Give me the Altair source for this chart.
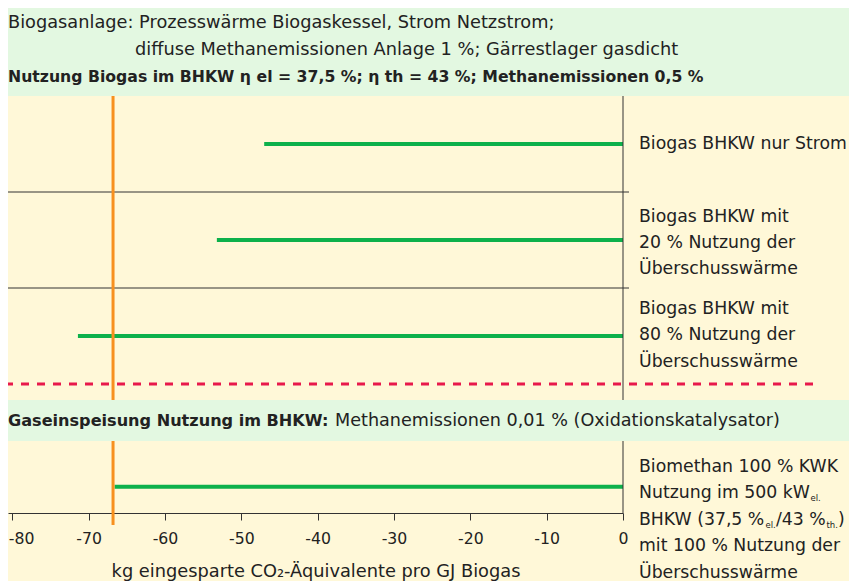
import altair as alt
import pandas as pd

# ---------------- data ----------------
row_labels = [
    "Biogas BHKW nur Strom",
    "Biogas BHKW mit\n20 % Nutzung der\nÜberschusswärme",
    "Biogas BHKW mit\n80 % Nutzung der\nÜberschusswärme",
]
row_values = [-47.0, -53.2, -71.4]
biomethan_value = -66.6
reference_value = -66.8  # orange line
tick_values = [-80, -70, -60, -50, -40, -30, -20, -10, 0]

header_line1 = "Biogasanlage: Prozesswärme Biogaskessel, Strom Netzstrom;"
header_line2 = "diffuse Methanemissionen Anlage 1 %; Gärrestlager gasdicht"
header_line3 = "Nutzung Biogas im BHKW η el = 37,5 %; η th = 43 %; Methanemissionen 0,5 %"
band_bold = "Gaseinspeisung Nutzung im BHKW:"
band_regular = "Methanemissionen 0,01 % (Oxidationskatalysator)"
axis_title = "kg eingesparte CO₂-Äquivalente pro GJ Biogas"

bm_line1 = "Biomethan 100 % KWK"
bm_line2 = "Nutzung im 500 kW"
bm_line3a = "BHKW (37,5 %"
bm_line3b = "/43 %"
bm_line3c = ")"
bm_line4 = "mit 100 % Nutzung der"
bm_line5 = "Überschusswärme"
sub_el = "el."
sub_th = "th."

# ---------------- layout / style ----------------
W, H = 615, 505
PAD_R, PAD_B = 226, 68
X_MIN, X_MAX = -80.56, 0
Y_TOP, Y_BOT = -1.4167, 3.84375
ROW_POS = [0, 1, 2]
ROW_DY = [0, -23.5, -27]
BM_ROW = 3.57
FONT = "DejaVu Sans"
LAB = 17.3   # right-hand label font size
LDX = 16     # label offset from zero line
CREAM = "#FFF8D8"
LIGHTGREEN = "#E3F8E1"
GREEN = "#0DB14B"
ORANGE = "#F7901E"
RED = "#E8194B"
AX = "#333333"
TXT = "#222222"

xs = alt.Scale(domain=[X_MIN, X_MAX], nice=False, zero=False)
ys = alt.Scale(domain=[Y_TOP, Y_BOT], nice=False, zero=False, reverse=True)

xaxis = alt.Axis(
    values=tick_values, title=axis_title, grid=False,
    tickSize=7, tickWidth=1, tickColor=AX, domainColor=AX, domainWidth=1,
    labelFont=FONT, labelFontSize=15.7, labelColor=TXT, labelPadding=11,
    labelFlush=False, labelExpr="'' + datum.value",
    labelAlign={"condition": {"test": "datum.value == -80", "value": "left"}, "value": "center"},
    labelOffset={"condition": {"test": "datum.value == -80", "value": -4}, "value": 0},
    titleFont=FONT, titleFontSize=17.8, titleFontWeight="normal",
    titleColor=TXT, titlePadding=17,
)


def XQ(field):
    return alt.X(field, type="quantitative", scale=xs, axis=xaxis)


def YQ(field):
    return alt.Y(field, type="quantitative", scale=ys, axis=None)


bars_df = pd.DataFrame({
    "label": row_labels + ["Biomethan"],
    "value": row_values + [biomethan_value],
    "row": ROW_POS + [BM_ROW],
    "zero": 0,
})

bars = alt.Chart(bars_df).mark_rule(color=GREEN, strokeWidth=4).encode(
    x=XQ("value"), x2="zero", y=YQ("row")
)

sep = alt.Chart(pd.DataFrame({"y": [0.5, 1.5], "x0": X_MIN, "x1": 0})).mark_rule(
    color=AX, strokeWidth=1, x2Offset=6
).encode(x=XQ("x0"), x2="x1", y=YQ("y"))

zero_line = alt.Chart(pd.DataFrame({"x": [0], "y0": [-0.5], "y1": [Y_BOT]})).mark_rule(
    color=AX, strokeWidth=1
).encode(x=XQ("x"), y=YQ("y0"), y2="y1")

dashed = alt.Chart(pd.DataFrame({"y": [2.5], "x0": [X_MIN], "x1": [25.4]})).mark_rule(
    color=RED, strokeWidth=3, strokeDash=[8, 8], strokeDashOffset=3
).encode(x=XQ("x0"), x2="x1", y=YQ("y"))

orange = alt.Chart(pd.DataFrame({"x": [reference_value], "y0": [-0.5], "y1": [3.969]})).mark_rule(
    color=ORANGE, strokeWidth=3
).encode(x=XQ("x"), y=YQ("y0"), y2="y1")

bands = alt.Chart(pd.DataFrame({"y0": [Y_TOP, 2.6667], "y1": [-0.5, 3.0938]})).mark_rect(
    color=LIGHTGREEN
).encode(x=alt.value(0), x2=alt.value(W + PAD_R), y=YQ("y0"), y2="y1")

row_texts = [
    alt.Chart(bars_df.iloc[[i]]).mark_text(
        align="left", baseline="middle", dx=LDX, dy=ROW_DY[i], fontSize=LAB,
        font=FONT, color=TXT, lineBreak="\n", lineHeight=26.3
    ).encode(x=XQ("zero"), y=YQ("row"), text="label:N")
    for i in range(3)
]


def txt(text, x, y, dx=0, dy=0, size=18, weight="normal", baseline="middle"):
    return alt.Chart(pd.DataFrame({"t": [text], "x": [x], "y": [y]})).mark_text(
        align="left", baseline=baseline, dx=dx, dy=dy, fontSize=size,
        fontWeight=weight, font=FONT, color=TXT
    ).encode(x=XQ("x"), y=YQ("y"), text="t:N")


SUB = 8.5
texts = [
    txt(header_line1, X_MIN, -1.2604, size=17.75),
    txt(header_line2, X_MIN, -0.9792, dx=127, size=17.75),
    txt(header_line3, X_MIN, -0.6979, size=15.7, weight="bold"),
    txt(band_bold, X_MIN, 2.885, size=16.1, weight="bold"),
    txt(band_regular, X_MIN, 2.885, dx=327, size=17.6),
    txt(bm_line1, 0, BM_ROW, dx=LDX, dy=-15, size=LAB, baseline="alphabetic"),
    txt(bm_line2, 0, BM_ROW, dx=LDX, dy=11.5, size=LAB, baseline="alphabetic"),
    txt(sub_el, 0, BM_ROW, dx=LDX + 171.5, dy=14.5, size=SUB, baseline="alphabetic"),
    txt(bm_line3a, 0, BM_ROW, dx=LDX, dy=38, size=LAB, baseline="alphabetic"),
    txt(sub_el, 0, BM_ROW, dx=LDX + 126.5, dy=41, size=SUB, baseline="alphabetic"),
    txt(bm_line3b, 0, BM_ROW, dx=LDX + 137, dy=38, size=LAB, baseline="alphabetic"),
    txt(sub_th, 0, BM_ROW, dx=LDX + 187.5, dy=41, size=SUB, baseline="alphabetic"),
    txt(bm_line3c, 0, BM_ROW, dx=LDX + 199, dy=38, size=LAB, baseline="alphabetic"),
    txt(bm_line4, 0, BM_ROW, dx=LDX, dy=64.5, size=LAB, baseline="alphabetic"),
    txt(bm_line5, 0, BM_ROW, dx=LDX, dy=91, size=LAB, baseline="alphabetic"),
]

chart = alt.layer(
    bars, sep, zero_line, dashed, orange, bands, *row_texts, *texts
).properties(
    width=W, height=H,
    padding={"left": 0, "top": 0, "right": PAD_R, "bottom": PAD_B},
    autosize="none",
    background=CREAM,
).configure_view(strokeWidth=0)

chart.save("out.html", embed_options={"renderer": "svg", "actions": False})
